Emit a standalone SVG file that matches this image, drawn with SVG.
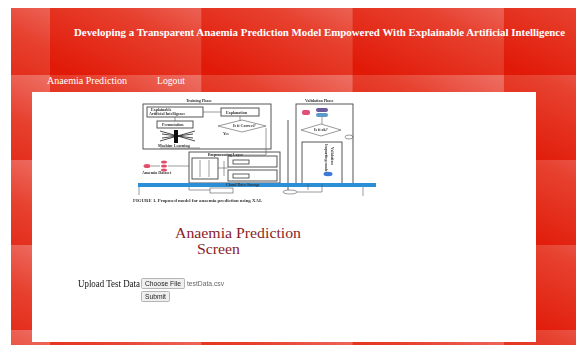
<svg xmlns="http://www.w3.org/2000/svg" width="576" height="345" viewBox="0 0 576 345">
  <defs>
    <linearGradient id="tileGrad" x1="1" y1="0" x2="0.15" y2="1">
      <stop offset="0" stop-color="#ed7065"/>
      <stop offset="0.4" stop-color="#e7412f"/>
      <stop offset="1" stop-color="#e11a08"/>
    </linearGradient>
    <pattern id="tiles" patternUnits="userSpaceOnUse" x="-101.3" y="-10" width="151.3" height="85">
      <rect width="151.3" height="85" fill="url(#tileGrad)"/>
    </pattern>
    <filter id="soft" x="-5%" y="-5%" width="110%" height="110%">
      <feGaussianBlur stdDeviation="0.5"/>
    </filter>
    <filter id="softer" x="-5%" y="-5%" width="110%" height="110%">
      <feGaussianBlur stdDeviation="0.3"/>
    </filter>
  </defs>
  <style>
    .hdr { font-family: "Liberation Serif", "DejaVu Serif", serif; fill: #ffffff; }
    .title { font-size: 11px; font-weight: bold; }
    .nav { font-size: 10px; }
    .heading { font-family: "Liberation Serif", "DejaVu Serif", serif; font-size: 15.5px; fill: #8a1c28; }
    .label { font-family: "Liberation Serif", "DejaVu Serif", serif; font-size: 9.5px; fill: #111111; }
    .btn { fill: #efefef; stroke: #9a9a9a; stroke-width: 0.7; }
    .btntxt { font-family: "Liberation Sans", Arial, sans-serif; font-size: 7px; fill: #222222; }
    .fname { font-family: "Liberation Sans", Arial, sans-serif; font-size: 7px; fill: #666666; }
    .fig { fill: none; stroke: #444444; stroke-width: 0.9; }
    .figthin { fill: none; stroke: #555555; stroke-width: 0.6; }
    .figtxt { font-family: "Liberation Serif", serif; font-size: 4px; font-weight: bold; fill: #333333; }
  </style>

  <!-- page background -->
  <rect width="576" height="345" fill="#ffffff"/>
  <rect x="11" y="8" width="565" height="337" fill="url(#tiles)"/>

  <!-- header -->
  <g id="header">
    <text class="hdr title" x="74" y="36" textLength="491" lengthAdjust="spacingAndGlyphs">Developing a Transparent Anaemia Prediction Model Empowered With Explainable Artificial Intelligence</text>
  </g>
  <g id="nav">
    <text class="hdr nav" x="47" y="84" textLength="80" lengthAdjust="spacingAndGlyphs">Anaemia Prediction</text>
    <text class="hdr nav" x="157" y="84" textLength="28" lengthAdjust="spacingAndGlyphs">Logout</text>
  </g>

  <!-- content panel -->
  <rect id="panel" x="32" y="92" width="504" height="250" fill="#ffffff"/>

  <!-- embedded model figure -->
  <g id="figure" filter="url(#soft)">
    <!-- training phase -->
    <text class="figtxt" x="186" y="102">Training Phase</text>
    <rect class="fig" x="143" y="104" width="128" height="45"/>
    <rect class="fig" x="147" y="107" width="56" height="10"/>
    <text class="figtxt" x="151" y="111" font-size="3.2">Explainable</text>
    <text class="figtxt" x="149" y="115" font-size="3.2">Artificial Intelligence</text>
    <rect class="fig" x="221" y="108" width="38" height="8"/>
    <text class="figtxt" x="226" y="113.5" font-size="3.4">Explanation</text>
    <line class="figthin" x1="203" y1="112" x2="221" y2="112"/>
    <line class="figthin" x1="240" y1="116" x2="240" y2="121"/>
    <polygon class="figthin" points="218,126 242,120 266,126 242,132"/>
    <text class="figtxt" x="233" y="127" font-size="3">Is it Correct?</text>
    <text class="figtxt" x="223" y="135" font-size="3">Yes</text>
    <line class="figthin" x1="175" y1="117" x2="175" y2="121"/>
    <rect class="fig" x="157" y="121" width="36" height="7"/>
    <text class="figtxt" x="162" y="126" font-size="3.2">Permutation</text>
    <g stroke="#222222" stroke-width="0.8">
      <line x1="160" y1="131" x2="195" y2="141"/>
      <line x1="160" y1="141" x2="195" y2="131"/>
      <line x1="162" y1="134" x2="193" y2="138"/>
      <line x1="162" y1="138" x2="193" y2="134"/>
    </g>
    <rect x="174" y="130" width="4" height="13" fill="#111111"/>
    <text class="figtxt" x="158" y="147" font-size="3.6">Machine Learning</text>
    <line class="figthin" x1="160" y1="148" x2="200" y2="148"/>
    <line class="figthin" x1="266" y1="128" x2="266" y2="155"/>
    <line class="figthin" x1="208" y1="155" x2="266" y2="155"/>
    <line class="fig" x1="288" y1="120" x2="288" y2="190"/>

    <!-- validation phase -->
    <text class="figtxt" x="305" y="102">Validation Phase</text>
    <rect class="fig" x="296" y="104" width="57" height="80"/>
    <rect x="302" y="110" width="8" height="5" rx="2" fill="#e0507a"/>
    <rect x="316" y="108" width="12" height="4" rx="2" fill="#6a5a9a"/>
    <rect x="316" y="113" width="12" height="4" rx="2" fill="#5a9acb"/>
    <line class="figthin" x1="322" y1="117" x2="322" y2="124"/>
    <polygon class="figthin" points="301,130 321,124 341,130 321,136"/>
    <text class="figtxt" x="314" y="131" font-size="3">Is it ok?</text>
    <ellipse cx="349" cy="137" rx="4" ry="2" class="figthin"/>
    <rect class="fig" x="302" y="142" width="40" height="42"/>
    <text class="figtxt" x="0" y="0" font-size="3.6" transform="translate(325 144) rotate(90)">Importing model</text>
    <text class="figtxt" x="0" y="0" font-size="3.6" transform="translate(331 147) rotate(90)">Validation</text>
    <ellipse cx="328" cy="174" rx="4.5" ry="2.2" fill="#3a78d8"/>

    <!-- preprocessing layer -->
    <rect class="fig" x="189" y="152" width="91" height="31"/>
    <text class="figtxt" x="208" y="155.5">Preprocessing Layer</text>
    <rect class="fig" x="192" y="158" width="26" height="21"/>
    <line class="figthin" x1="200" y1="160" x2="200" y2="177"/>
    <line class="figthin" x1="209" y1="160" x2="209" y2="177"/>
    <line class="figthin" x1="218" y1="168" x2="228" y2="168"/>
    <line class="figthin" x1="224" y1="161" x2="224" y2="176"/>
    <rect class="fig" x="228" y="156" width="49" height="11"/>
    <rect x="233" y="160" width="16" height="4" fill="none" stroke="#222" stroke-width="0.7"/>
    <rect class="fig" x="228" y="170" width="49" height="11"/>
    <rect x="233" y="174" width="16" height="4" fill="none" stroke="#222" stroke-width="0.7"/>

    <!-- dataset icon -->
    <ellipse cx="147" cy="166" rx="3.5" ry="2" fill="#e0506a"/>
    <ellipse cx="164" cy="162" rx="3" ry="1.6" fill="#e0506a"/>
    <ellipse cx="164" cy="166" rx="3" ry="1.6" fill="#e0506a"/>
    <ellipse cx="164" cy="170" rx="3" ry="1.6" fill="#e0506a"/>
    <line class="figthin" x1="151" y1="166" x2="160" y2="166"/>
    <line class="figthin" x1="168" y1="166" x2="189" y2="166"/>
    <text class="figtxt" x="142" y="174" font-size="3" fill="#d0607a">Anaemia Dataset</text>

    <!-- cloud storage -->
    <rect x="138" y="183" width="238" height="4" fill="#2a8fd6"/>
    <text class="figtxt" x="226" y="186.2" font-size="3.4" fill="#ffffff">Cloud Data Storage</text>
    <line class="figthin" x1="139" y1="187" x2="139" y2="195"/>
    <line class="figthin" x1="363" y1="187" x2="363" y2="196"/>
    <line class="figthin" x1="189" y1="187" x2="189" y2="190"/>
    <rect class="figthin" x="210" y="188" width="23" height="5"/>
    <line class="figthin" x1="189" y1="190" x2="210" y2="190"/>
    <ellipse cx="290" cy="192" rx="7" ry="2" class="figthin"/>
    <line class="figthin" x1="297" y1="192" x2="322" y2="192"/>
    <line class="figthin" x1="322" y1="184" x2="322" y2="192"/>
    <line class="figthin" x1="308" y1="184" x2="308" y2="190"/>

    <!-- caption -->
    <text class="figtxt" x="133" y="201.5" font-size="4.2" fill="#222222" textLength="129" lengthAdjust="spacingAndGlyphs">FIGURE 1.  Proposed model for anaemia prediction using XAI.</text>
  </g>

  <!-- page heading -->
  <g id="heading">
    <text class="heading" x="175" y="238" textLength="126" lengthAdjust="spacingAndGlyphs">Anaemia Prediction</text>
    <text class="heading" x="197" y="253.5" textLength="43" lengthAdjust="spacingAndGlyphs">Screen</text>
  </g>

  <!-- upload form -->
  <g id="upload-form" filter="url(#softer)">
    <text class="label" x="78" y="287" textLength="62" lengthAdjust="spacingAndGlyphs">Upload Test Data</text>
    <rect class="btn" x="141.5" y="278.5" width="43" height="10" rx="1"/>
    <text class="btntxt" x="145" y="285.8" textLength="36" lengthAdjust="spacingAndGlyphs">Choose File</text>
    <text class="fname" x="187" y="285.8" textLength="37" lengthAdjust="spacingAndGlyphs">testData.csv</text>
    <rect class="btn" x="141.5" y="291.5" width="28" height="10" rx="1"/>
    <text class="btntxt" x="145" y="298.8" textLength="21" lengthAdjust="spacingAndGlyphs">Submit</text>
  </g>
</svg>
